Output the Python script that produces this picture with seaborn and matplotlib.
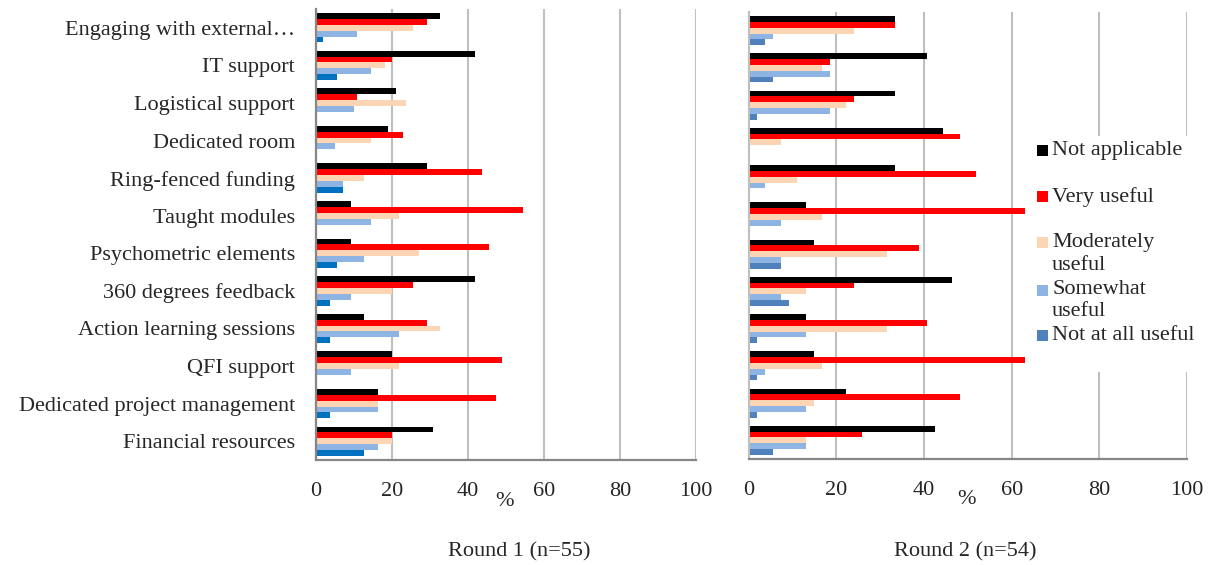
import matplotlib
matplotlib.use("Agg")
import matplotlib.pyplot as plt
import matplotlib.patches as mpatches
import seaborn as sns
import pandas as pd
import numpy as np

categories = [
    "Engaging with external\u2026",
    "IT support",
    "Logistical support",
    "Dedicated room",
    "Ring-fenced funding",
    "Taught modules",
    "Psychometric elements",
    "360 degrees feedback",
    "Action learning sessions",
    "QFI support",
    "Dedicated project management",
    "Financial resources",
]
levels = ["Not applicable", "Very useful", "Moderately useful",
          "Somewhat useful", "Not at all useful"]

# Round 1 (n=55), percentages
r1_not_applicable = [32.7, 41.8, 21.0, 19.0, 29.1, 9.1, 9.1, 41.8, 12.7, 19.9, 16.3, 30.8]
r1_very_useful    = [29.1, 20.0, 10.9, 23.0, 43.6, 54.5, 45.5, 25.5, 29.1, 49.0, 47.3, 20.0]
r1_moderately     = [25.5, 18.2, 23.6, 14.5, 12.7, 21.8, 27.2, 20.0, 32.7, 21.8, 16.3, 20.0]
r1_somewhat       = [10.9, 14.5, 10.0, 5.0, 7.2, 14.5, 12.7, 9.1, 21.8, 9.1, 16.3, 16.3]
r1_not_at_all     = [1.8, 5.4, 0.0, 0.0, 7.2, 0.0, 5.4, 3.6, 3.6, 0.0, 3.6, 12.7]

# Round 2 (n=54), percentages
r2_not_applicable = [33.3, 40.7, 33.3, 44.4, 33.3, 13.0, 14.8, 46.3, 13.0, 14.8, 22.2, 42.6]
r2_very_useful    = [33.3, 18.5, 24.1, 48.1, 51.9, 63.0, 38.9, 24.1, 40.7, 63.0, 48.1, 25.9]
r2_moderately     = [24.1, 16.7, 22.2, 7.4, 11.1, 16.7, 31.5, 13.0, 31.5, 16.7, 14.8, 13.0]
r2_somewhat       = [5.6, 18.5, 18.5, 0.0, 3.7, 7.4, 7.4, 7.4, 13.0, 3.7, 13.0, 13.0]
r2_not_at_all     = [3.7, 5.6, 1.9, 0.0, 0.0, 0.0, 7.4, 9.3, 1.9, 1.9, 1.9, 5.6]

ticks = [0, 20, 40, 60, 80, 100]


def long_frame(series):
    rows = []
    for lev, vals in zip(levels, series):
        for cat, v in zip(categories, vals):
            rows.append({"category": cat, "level": lev, "value": v})
    return pd.DataFrame(rows)


df1 = long_frame([r1_not_applicable, r1_very_useful, r1_moderately, r1_somewhat, r1_not_at_all])
df2 = long_frame([r2_not_applicable, r2_very_useful, r2_moderately, r2_somewhat, r2_not_at_all])

pal1 = ["#000000", "#FF0000", "#FCD5B4", "#8DB4E2", "#0070C0"]
pal2 = ["#000000", "#FF0000", "#FCD5B4", "#8DB4E2", "#4F81BD"]

sns.set_style("white")
plt.rcParams["font.family"] = ["Liberation Serif", "DejaVu Serif"]

W, H = 1214, 565
fig = plt.figure(figsize=(W / 100, H / 100), dpi=100)


def fx(px):
    return px / W


def fy(py):
    return 1 - py / H


ax1 = fig.add_axes([fx(316), fy(460), fx(696) - fx(316), fy(9) - fy(460)])
ax2 = fig.add_axes([fx(748.7), fy(459), fx(1187) - fx(748.7), fy(12) - fy(459)])

grid_c = "#BFBFBF"
spine_c = "#868686"
FS = 16

for ax, df, pal in [(ax1, df1, pal1), (ax2, df2, pal2)]:
    sns.barplot(data=df, y="category", x="value", hue="level",
                order=categories, hue_order=levels, palette=pal,
                orient="h", width=0.78, linewidth=0, saturation=1,
                legend=False, ax=ax, zorder=2)
    ax.set_xlim(0, 100)
    ax.set_ylim(len(categories) - 0.5, -0.5)
    ax.set_xticks(ticks)
    ax.set_xticklabels([str(t) for t in ticks], fontsize=FS)
    ax.set_xlabel("")
    ax.set_ylabel("")
    ax.set_axisbelow(True)
    ax.grid(axis="x", color=grid_c, linewidth=1.5)
    ax.grid(axis="y", visible=False)
    for s in ["top", "right"]:
        ax.spines[s].set_visible(False)
    ax.spines["bottom"].set_color(spine_c)
    ax.spines["bottom"].set_linewidth(1.6)
    ax.tick_params(axis="x", direction="out", length=5, width=1.3,
                   color=spine_c, pad=11, labelsize=FS)

# left panel y axis
ax1.spines["left"].set_color(spine_c)
ax1.spines["left"].set_linewidth(1.6)
ax1.set_yticks(range(len(categories)))
ax1.set_yticklabels(categories, fontsize=FS)
ax1.tick_params(axis="y", which="major", length=0, pad=15)
ax1.set_yticks(np.arange(-0.5, len(categories)), minor=True)
ax1.tick_params(axis="y", which="minor", length=6, width=1.3, color=spine_c)

# right panel y axis
ax2.spines["left"].set_color(grid_c)
ax2.spines["left"].set_linewidth(1.5)
ax2.set_yticks([])

# white box behind legend hiding gridlines
box = mpatches.Rectangle((fx(1028), fy(372)), fx(1214) - fx(1028), fy(136) - fy(372),
                         transform=fig.transFigure, facecolor="white",
                         edgecolor="none", zorder=1.5, clip_on=False)
ax2.add_patch(box)

# legend
sq = 11
sq_centers = [150, 196.7, 242.7, 290, 335.7]
text_lines = [[("Not applicable", 150)], [("Very useful", 197)],
              [("Moderately", 243), ("useful", 266)],
              [("Somewhat", 290), ("useful", 312)],
              [("Not at all useful", 336)]]
for c, yc, lines in zip(pal2, sq_centers, text_lines):
    fig.patches.append(mpatches.Rectangle((fx(1037), fy(yc + sq / 2)), fx(sq), sq / H,
                                          transform=fig.transFigure, facecolor=c,
                                          edgecolor="none"))
    for t, ty in lines:
        fig.text(fx(1052), fy(ty), t, ha="left", va="center", fontsize=16)

# axis "%" labels and titles
fig.text(fx(504), fy(502), "%", ha="center", va="center", fontsize=FS)
fig.text(fx(967), fy(500), "%", ha="center", va="center", fontsize=FS)
fig.text(fx(519), fy(552), "Round 1 (n=55)", ha="center", va="center", fontsize=FS)
fig.text(fx(965), fy(552), "Round 2 (n=54)", ha="center", va="center", fontsize=FS)

fig.savefig("out.png", dpi=100, facecolor="white")
